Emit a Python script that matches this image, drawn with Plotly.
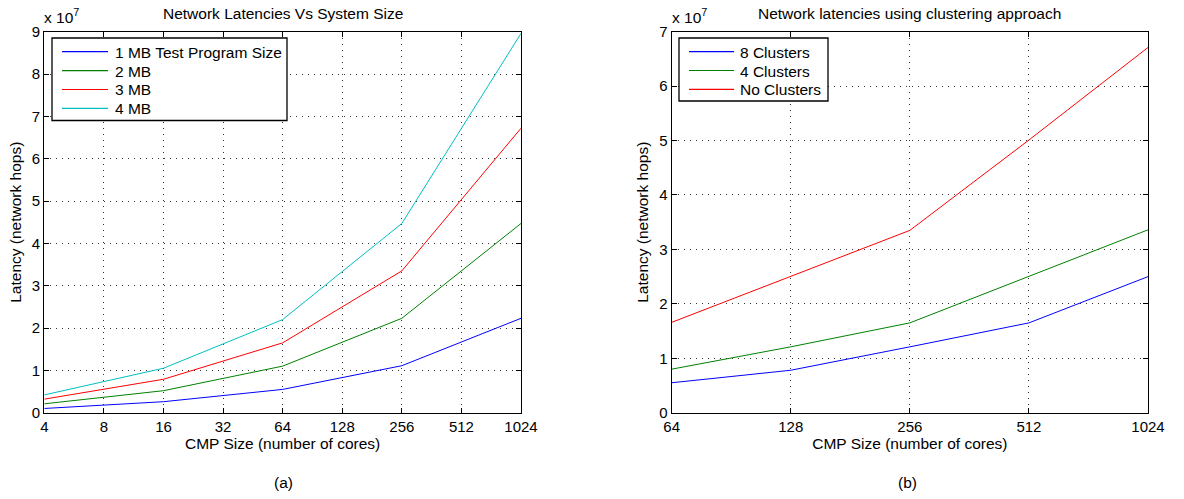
import plotly.graph_objects as go

# ---- data (a) ----
cores_a = [4, 16, 64, 256, 1024]
mb1 = [0.10e7, 0.26e7, 0.55e7, 1.11e7, 2.23e7]
mb2 = [0.21e7, 0.52e7, 1.10e7, 2.23e7, 4.47e7]
mb3 = [0.32e7, 0.79e7, 1.65e7, 3.35e7, 6.72e7]
mb4 = [0.42e7, 1.05e7, 2.20e7, 4.47e7, 8.96e7]
names_a = ["1 MB Test Program Size", "2 MB", "3 MB", "4 MB"]
xticks_a = [4, 8, 16, 32, 64, 128, 256, 512, 1024]
yticks_a = [0, 1, 2, 3, 4, 5, 6, 7, 8, 9]

# ---- data (b) ----
cores_b = [64, 128, 256, 512, 1024]
cl8 = [0.55e7, 0.78e7, 1.21e7, 1.65e7, 2.50e7]
cl4 = [0.80e7, 1.21e7, 1.65e7, 2.50e7, 3.36e7]
cl0 = [1.66e7, 2.50e7, 3.35e7, 5.01e7, 6.71e7]
names_b = ["8 Clusters", "4 Clusters", "No Clusters"]
xticks_b = [64, 128, 256, 512, 1024]
yticks_b = [0, 1, 2, 3, 4, 5, 6, 7]

colors_a = ["#0000ff", "#008000", "#ff0000", "#00bfbf"]
colors_b = ["#0000ff", "#008000", "#ff0000"]

FONT = "Liberation Sans, Arial, Helvetica, sans-serif"
FS = 15.5
W, H = 1184, 499

fig = go.Figure()
for ys, nm, c in zip([mb1, mb2, mb3, mb4], names_a, colors_a):
    fig.add_trace(go.Scatter(x=cores_a, y=ys, mode="lines", name=nm,
                             line=dict(color=c, width=1), xaxis="x", yaxis="y",
                             showlegend=False))
for ys, nm, c in zip([cl8, cl4, cl0], names_b, colors_b):
    fig.add_trace(go.Scatter(x=cores_b, y=ys, mode="lines", name=nm,
                             line=dict(color=c, width=1), xaxis="x2", yaxis="y2",
                             showlegend=False))

def px_x(p):
    return p / W

def px_y(p):
    return 1 - p / H

ax_common = dict(showline=True, linecolor="black", linewidth=1.3, mirror="ticks",
                 ticks="inside", ticklen=5, tickcolor="black",
                 showgrid=True, gridcolor="#333333", griddash="1px,5px", gridwidth=1,
                 zeroline=False, automargin=False,
                 tickfont=dict(family=FONT, size=15, color="black"))

xt = dict(text="CMP Size (number of cores)", standoff=2,
          font=dict(family=FONT, size=FS))
yt = dict(text="Latency (network hops)", standoff=6,
          font=dict(family=FONT, size=FS))

fig.update_layout(
    width=W, height=H, margin=dict(l=0, r=0, t=0, b=0),
    paper_bgcolor="white", plot_bgcolor="white",
    font=dict(family=FONT, size=FS, color="black"),
    showlegend=False,
    xaxis=dict(domain=[px_x(44.3), px_x(521)], type="log",
               range=[0.60206, 3.0103], tickvals=xticks_a,
               ticktext=[str(v) for v in xticks_a],
               title=xt, anchor="y", **ax_common),
    yaxis=dict(domain=[px_y(412.7), px_y(31.7)], range=[0, 9e7],
               tickvals=[v * 1e7 for v in yticks_a],
               ticktext=[str(v) for v in yticks_a],
               title=yt, anchor="x", **ax_common),
    xaxis2=dict(domain=[px_x(671.7), px_x(1148)], type="log",
                range=[1.80618, 3.0103], tickvals=xticks_b,
                ticktext=[str(v) for v in xticks_b],
                title=xt, anchor="y2", **ax_common),
    yaxis2=dict(domain=[px_y(412.7), px_y(31.7)], range=[0, 7e7],
                tickvals=[v * 1e7 for v in yticks_b],
                ticktext=[str(v) for v in yticks_b],
                title=yt, anchor="x2", **ax_common),
)

# MATLAB-style legend boxes (paper coordinates, built from the series names/colours)
def add_legend(names, colors, box, line_x0, line_x1, text_x, row0, drow):
    x0, y0, x1, y1 = box
    fig.add_shape(type="rect", xref="paper", yref="paper",
                  x0=px_x(x0), x1=px_x(x1), y0=px_y(y1), y1=px_y(y0),
                  line=dict(color="black", width=1.3), fillcolor="white",
                  layer="above")
    for i, (nm, c) in enumerate(zip(names, colors)):
        yy = row0 + i * drow
        fig.add_shape(type="line", xref="paper", yref="paper",
                      x0=px_x(line_x0), x1=px_x(line_x1),
                      y0=px_y(yy), y1=px_y(yy),
                      line=dict(color=c, width=1.2), layer="above")
        fig.add_annotation(xref="paper", yref="paper", showarrow=False,
                           x=px_x(text_x), y=px_y(yy + 0.5),
                           xanchor="left", yanchor="middle", text=nm,
                           font=dict(family=FONT, size=FS, color="black"))

add_legend(names_a, colors_a, (52, 38, 287, 120.5), 62, 108, 113, 51.7, 18.9)
add_legend(names_b, colors_b, (679, 38, 828, 101), 689, 734, 738, 51.7, 18.8)

annots = [
    dict(text="Network Latencies Vs System Size", x=px_x(283), y=px_y(13),
         xanchor="center"),
    dict(text="Network latencies using clustering approach", x=px_x(910), y=px_y(13),
         xanchor="center"),
    dict(text="x 10<sup>7</sup>", x=px_x(42), y=px_y(16), xanchor="left"),
    dict(text="x 10<sup>7</sup>", x=px_x(670), y=px_y(16), xanchor="left"),
    dict(text="(a)", x=px_x(283), y=px_y(482), xanchor="center"),
    dict(text="(b)", x=px_x(907), y=px_y(482), xanchor="center"),
]
for a in annots:
    fig.add_annotation(xref="paper", yref="paper", showarrow=False,
                       yanchor="middle",
                       font=dict(family=FONT, size=FS, color="black"), **a)

fig.write_html("out.html")
